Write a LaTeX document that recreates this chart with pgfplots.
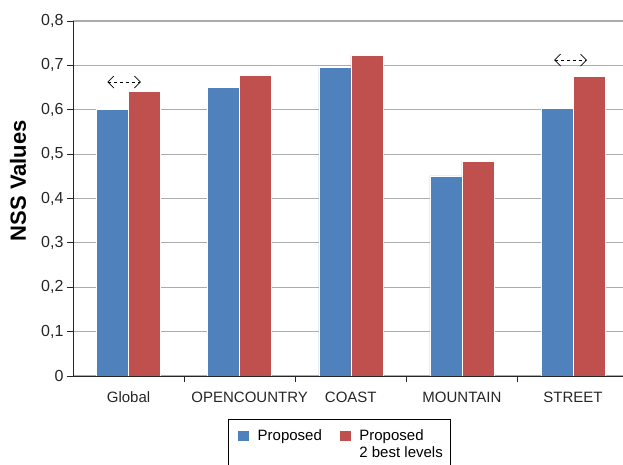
\documentclass[border=0pt]{standalone}
\usepackage{pgfplots}
\pgfplotsset{compat=1.18}
\usepackage{fontspec}
\setmainfont{Liberation Sans}
\usetikzlibrary{arrows.meta}
\definecolor{cblue}{HTML}{4F81BD}
\definecolor{cred}{HTML}{C0504D}
\begin{document}
\begin{tikzpicture}[x=1pt,y=1pt]
\begin{axis}[
  at={(0pt,0pt)}, anchor=south west,
  scale only axis, width=550pt, height=355pt,
  ybar=0pt, bar width=32pt,
  xmin=-0.5, xmax=4.45, ymin=0, ymax=0.8,
  axis x line*=bottom, axis y line*=left,
  axis line style={-, black!85, line width=0.8pt},
  ytick={0,0.1,0.2,0.3,0.4,0.5,0.6,0.7,0.8},
  yticklabel style={/pgf/number format/.cd, use comma, fixed, precision=1},
  /pgf/number format/assume math mode=true,
  ytick align=outside, major tick length=6pt,
  ymajorgrids, grid style={gray!65, line width=1.1pt},
  xtick={0.5,1.5,2.5,3.5}, xticklabels={},
  xtick align=outside,
  extra x ticks={0,1.09,2,3,4},
  extra x tick labels={Global,OPENCOUNTRY,COAST,MOUNTAIN,STREET},
  extra x tick style={major tick length=0pt, grid=none,
     xticklabel style={font=\fontsize{15}{17}\selectfont, text=black!85, yshift=-12pt}},
  tick style={black!85, line width=0.8pt},
  ticklabel style={font=\fontsize{16}{18}\selectfont, text=black!85},
  ylabel={\bfseries NSS Values},
  ylabel style={font=\fontsize{22}{24}\selectfont, at={(axis description cs:-0.1,0.55)}, anchor=center},
  legend style={at={(0.2818,-0.1324)}, anchor=north west, draw=none, fill=none,
     legend columns=2, font=\fontsize{15}{16}\selectfont,
     cells={anchor=base west},
     /tikz/every odd column/.append style={column sep=6pt},
     /tikz/every even column/.append style={column sep=15pt},
     inner xsep=9pt, inner ysep=4pt},
  legend image code/.code={\fill[#1] (0pt,-1pt) rectangle (12pt,10pt);},
]
\addplot[fill=cblue, draw=white, line width=0.5pt] coordinates {(0,0.601) (1,0.651) (2,0.696) (3,0.451) (4,0.603)};
\addplot[fill=cred, draw=white, line width=0.5pt] coordinates {(0,0.641) (1,0.678) (2,0.723) (3,0.484) (4,0.675)};
\legend{Proposed, {\begin{tabular}[t]{@{}l@{}}Proposed\\[1pt]2 best levels\end{tabular}}}
\draw[dashed, line width=0.7pt, {Straight Barb[length=6pt,width=12pt]}-{Straight Barb[length=6pt,width=12pt]}] (axis cs:-0.19,0.6625) -- (axis cs:0.11,0.6625);
\draw[dashed, line width=0.7pt, {Straight Barb[length=6pt,width=12pt]}-{Straight Barb[length=6pt,width=12pt]}] (axis cs:3.83,0.712) -- (axis cs:4.126,0.712);
\end{axis}
\draw[black, line width=0.9pt] (155pt,-43pt) rectangle (377pt,-110pt);
\pgfresetboundingbox
\path[use as bounding box] (-73pt,-89pt) rectangle (550pt,376pt);
\end{tikzpicture}
\end{document}
